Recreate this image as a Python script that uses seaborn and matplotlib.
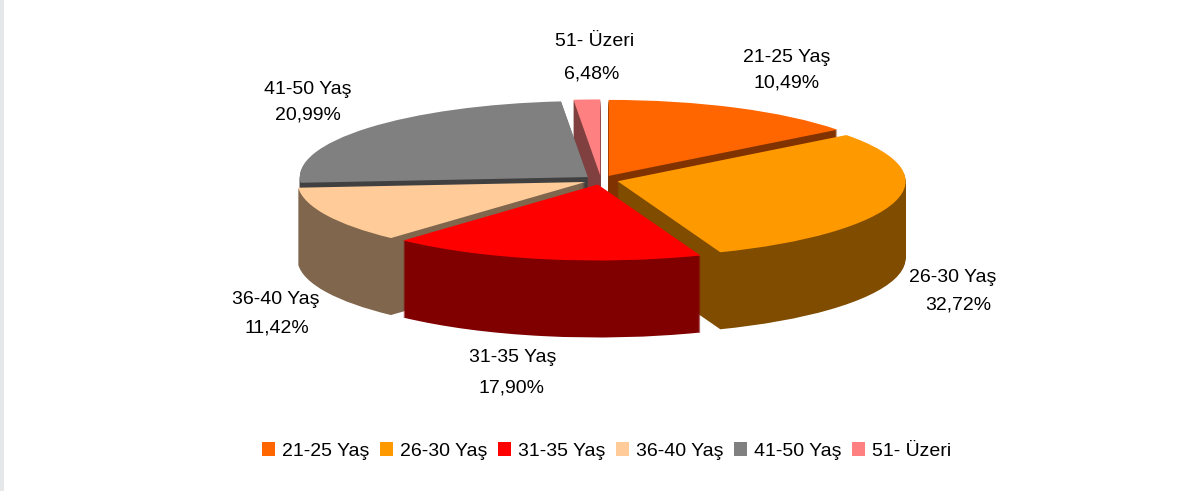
import matplotlib
matplotlib.use("Agg")
import matplotlib.pyplot as plt
import seaborn as sns
from matplotlib.patches import Patch, Rectangle

# categories and printed labels
age_groups = ["21-25 Yaş", "26-30 Yaş", "31-35 Yaş", "36-40 Yaş", "41-50 Yaş", "51- Üzeri"]
percent_labels = ["10,49%", "32,72%", "17,90%", "11,42%", "20,99%", "6,48%"]

# slice sizes as drawn in the picture (the printed percentages do not match the drawn slices)
drawn_shares = [14.6, 29.6, 17.6, 12.0, 24.72, 1.48]

top_colors = ["#FF6600", "#FF9900", "#FF0000", "#FFCC99", "#808080", "#FF8080"]
side_colors = ["#803300", "#804C00", "#800000", "#80664D", "#404040", "#804040"]

W, H = 1193, 491
CX, CY = 601, 180   # pie centre in pixels
RX, RY = 288, 76    # ellipse radii in pixels
DEPTH = 77          # height of the extrusion in pixels
EXPLODE = 0.06

sns.set_theme(style="white")
plt.rcParams["font.family"] = ["Liberation Sans", "DejaVu Sans"]

fig = plt.figure(figsize=(W / 100, H / 100), dpi=100, facecolor="white")
ax = fig.add_axes([0, 0, 1, 1])

# fake 3D: stack the pie from the bottom layer up to the top face
explode = [EXPLODE] * len(drawn_shares)
for k in range(DEPTH, -1, -1):
    ax.pie(
        drawn_shares,
        explode=explode,
        colors=sns.color_palette(top_colors if k == 0 else side_colors),
        startangle=90,
        counterclock=False,
        center=(0, -k / RY),
        wedgeprops={"linewidth": 0},
    )

# unequal x/y scale squashes the circle into the ellipse
ax.set_aspect("auto")
ax.set_xlim(-CX / RX, (W - CX) / RX)
ax.set_ylim((CY - H) / RY, CY / RY)
ax.set_axis_off()

# labels, pixel positions of the text centres
name_pos = [(787, 58), (953, 278), (513, 357), (276, 300), (308, 89), (595, 42)]
pct_pos = [(787, 83), (958, 305), (511, 388), (277, 328), (308, 115), (592, 74)]
for name, pct, p1, p2 in zip(age_groups, percent_labels, name_pos, pct_pos):
    for txt, (x, y) in ((name, p1), (pct, p2)):
        fig.text(x / W, 1 - y / H, txt, ha="center", va="center", fontsize=14, color="black")

handles = [Patch(facecolor=c, edgecolor="none", label=n) for c, n in zip(top_colors, age_groups)]
fig.legend(
    handles=handles,
    loc="center",
    bbox_to_anchor=(606.5 / W, 1 - 451 / H),
    ncols=6,
    frameon=False,
    fontsize=14,
    labelcolor="black",
    handlelength=0.67,
    handleheight=0.67,
    handletextpad=0.35,
    columnspacing=0.55,
    borderpad=0,
)

# grey strip on the left edge
fig.add_artist(Rectangle((0, 0), 4 / W, 1, transform=fig.transFigure, facecolor="#E6E7E8", edgecolor="none"))

fig.savefig("out.png", dpi=100, facecolor="white")
plt.close(fig)
